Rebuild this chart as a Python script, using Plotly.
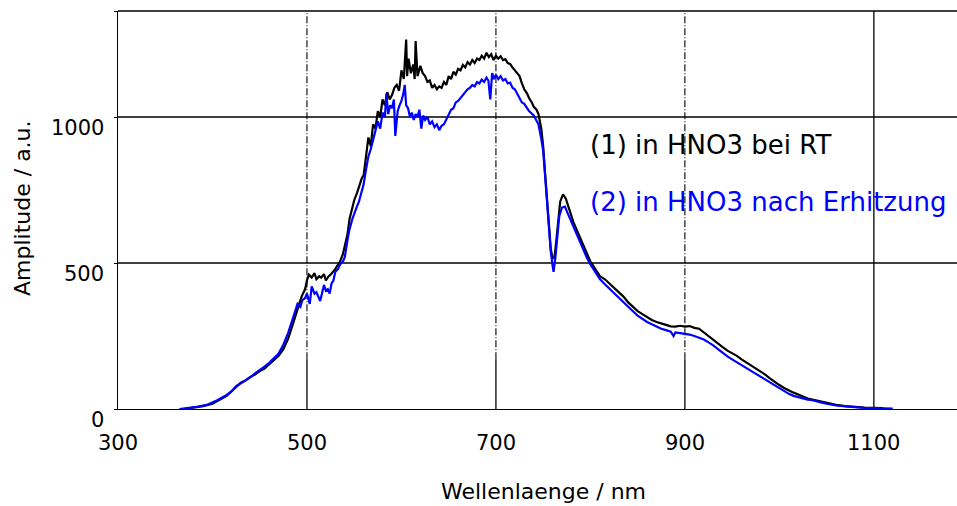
import plotly.graph_objects as go

# ---------------- data ----------------
# (wavelength nm, amplitude a.u.)
spectrum_rt = [
    (370, 0), (380, 5), (390, 10), (400, 18), (410, 35), (415, 45), (420, 60), (425, 75),
    (430, 90), (435, 98), (440, 110), (445, 118), (450, 130), (455, 138), (460, 152),
    (465, 165), (470, 182), (475, 205), (480, 240), (485, 290), (490, 345), (493, 372),
    (495, 390), (498, 410), (500, 440), (502, 460), (505, 450), (508, 465), (510, 445),
    (513, 455), (515, 450), (518, 462), (520, 440), (523, 455), (525, 460), (528, 470),
    (530, 480), (533, 495), (535, 505), (538, 530), (540, 560), (543, 600), (545, 650),
    (548, 690), (550, 715), (553, 740), (555, 760), (558, 790), (560, 800), (562.5, 860),
    (565, 930), (567.5, 900), (570, 975), (572.5, 960), (575, 1020), (577.5, 1000),
    (580, 1060), (582.5, 1040), (585, 1085), (587.5, 1060), (590, 1075), (592.5, 1100),
    (595, 1110), (597.5, 1090), (600, 1160), (602.5, 1130), (605, 1265), (606, 1140),
    (607.5, 1200), (610, 1150), (612.5, 1180), (614, 1130), (615, 1260), (617, 1140),
    (620, 1175), (622.5, 1150), (625, 1140), (627.5, 1120), (630, 1125), (632.5, 1100),
    (635, 1110), (637.5, 1095), (640, 1105), (642.5, 1100), (645, 1120), (647.5, 1110),
    (650, 1140), (652.5, 1130), (655, 1155), (657.5, 1145), (660, 1165), (662.5, 1160),
    (665, 1178), (667.5, 1170), (670, 1188), (672.5, 1180), (675, 1195), (677.5, 1185),
    (680, 1200), (682.5, 1195), (685, 1210), (687.5, 1200), (690, 1220), (692.5, 1205),
    (695, 1215), (697.5, 1195), (700, 1210), (702.5, 1200), (705, 1208), (707.5, 1195),
    (710, 1198), (712.5, 1185), (715, 1182), (717.5, 1170), (720, 1160), (722.5, 1150),
    (725, 1140), (727.5, 1115), (730, 1095), (733, 1080), (735, 1065), (738, 1050),
    (740, 1035), (743, 1025), (745, 1010), (748, 960), (750, 900), (752, 810), (754, 720),
    (756, 620), (758, 550), (760, 515), (762, 520), (764, 580), (766, 650), (768, 710),
    (771, 735), (774, 720), (778, 680), (782, 640), (786, 610), (790, 580), (795, 545),
    (800, 505), (805, 480), (810, 455), (815, 445), (820, 430), (825, 415), (830, 400),
    (835, 385), (840, 365), (845, 350), (850, 335), (855, 325), (860, 315), (865, 305),
    (870, 298), (875, 292), (880, 288), (885, 283), (890, 282), (895, 285), (900, 282),
    (905, 284), (910, 278), (915, 275), (920, 262), (925, 248), (930, 236), (935, 225),
    (940, 212), (945, 200), (950, 192), (955, 182), (960, 170), (965, 160), (970, 150),
    (975, 140), (980, 130), (985, 118), (990, 105), (995, 92), (1000, 82), (1005, 72),
    (1010, 63), (1015, 56), (1020, 50), (1025, 42), (1030, 36), (1035, 32), (1040, 28),
    (1045, 24), (1050, 20), (1055, 17), (1060, 14), (1070, 10), (1080, 7), (1090, 5),
    (1100, 4), (1110, 3),
]

spectrum_heat = [
    (365, 0), (375, 3), (385, 8), (395, 15), (405, 30), (415, 48), (420, 60), (425, 78),
    (430, 88), (435, 100), (440, 108), (445, 122), (450, 132), (455, 145), (460, 158),
    (465, 175), (470, 190), (475, 220), (480, 260), (485, 310), (490, 360), (493, 350),
    (495, 372), (498, 380), (500, 395), (503, 360), (505, 420), (508, 395), (510, 400),
    (514, 370), (518, 425), (520, 405), (522, 410), (524, 395), (526, 430), (528, 440),
    (530, 470), (533, 480), (535, 495), (538, 505), (540, 520), (543, 580), (545, 615),
    (548, 650), (550, 670), (553, 695), (555, 710), (558, 745), (560, 770), (562.5, 820),
    (565, 865), (567.5, 890), (570, 920), (572.5, 950), (575, 985), (577.5, 960),
    (580, 1015), (582.5, 1000), (584, 1080), (586, 1010), (588, 1040), (590, 1030),
    (592, 1060), (593.5, 935), (596, 1020), (598, 1040), (600, 1055), (602, 1080),
    (603.5, 1110), (605, 1040), (607, 1030), (609, 1000), (611, 1015), (613, 990),
    (615, 1010), (617, 1000), (619, 1025), (621, 960), (623, 1005), (625, 990),
    (627.5, 1000), (630, 975), (632.5, 985), (635, 965), (637.5, 975), (640, 955),
    (642.5, 970), (645, 975), (647.5, 990), (650, 1005), (652.5, 1025), (655, 1030),
    (657.5, 1050), (660, 1055), (662.5, 1065), (665, 1075), (667.5, 1085), (670, 1095),
    (672.5, 1100), (675, 1110), (677.5, 1105), (680, 1120), (682.5, 1115), (685, 1128),
    (687.5, 1120), (690, 1135), (692, 1125), (694, 1060), (696, 1150), (698, 1130),
    (700, 1145), (702.5, 1130), (705, 1140), (707.5, 1125), (710, 1130), (712.5, 1115),
    (715, 1118), (717.5, 1100), (720, 1095), (722.5, 1080), (725, 1070), (727.5, 1050),
    (730, 1045), (735, 1020), (740, 1005), (745, 975), (748, 925), (750, 885), (752, 800),
    (754, 710), (756, 610), (758, 540), (760, 490), (761, 470), (763, 520), (765, 600),
    (767, 660), (770, 690), (773, 693), (776, 670), (780, 640), (784, 605), (788, 575),
    (792, 545), (796, 520), (800, 495), (805, 470), (810, 445), (815, 428), (820, 412),
    (825, 398), (830, 380), (835, 365), (840, 350), (845, 335), (850, 320), (855, 308),
    (860, 298), (865, 290), (870, 282), (875, 275), (880, 270), (885, 265), (888, 250),
    (890, 262), (895, 260), (900, 258), (905, 255), (910, 250), (915, 245), (920, 238),
    (925, 228), (930, 218), (935, 205), (940, 192), (945, 180), (950, 170), (955, 160),
    (960, 150), (965, 142), (970, 132), (975, 122), (980, 112), (985, 102), (990, 92),
    (995, 80), (1000, 70), (1005, 62), (1010, 52), (1015, 45), (1020, 40), (1025, 36),
    (1030, 32), (1035, 30), (1040, 27), (1045, 22), (1050, 18), (1055, 15), (1060, 12),
    (1070, 9), (1080, 6), (1090, 4), (1100, 3), (1110, 2), (1120, 1),
]

x_ticks = [300, 500, 700, 900, 1100]
y_ticks = [0, 500, 1000]
x_grid = [500, 700, 900, 1100]
y_grid = [500, 1000]

label_rt = "(1) in HNO3 bei RT"
label_heat = "(2) in HNO3 nach Erhitzung"
x_title = "Wellenlaenge / nm"
y_title = "Amplitude / a.u."

wl_rt = [p[0] for p in spectrum_rt]
amp_rt = [p[1] for p in spectrum_rt]
wl_heat = [p[0] for p in spectrum_heat]
amp_heat = [p[1] for p in spectrum_heat]

X_MIN, X_MAX = 300, 1188
Y_MIN, Y_MAX = 0, 1363

FONT = "DejaVu Sans"
BLACK = "#000000"
BLUE = "#0000ff"

W, H = 957, 506
ML, MT, MR, MB = 118, 11, 0, 97

# ---------------- figure ----------------
fig = go.Figure()
fig.add_trace(go.Scatter(x=wl_rt, y=amp_rt, mode="lines",
                         line=dict(color=BLACK, width=2.2), showlegend=False))
fig.add_trace(go.Scatter(x=wl_heat, y=amp_heat, mode="lines",
                         line=dict(color=BLUE, width=2.2), showlegend=False))

shapes = []
for gy in y_grid:
    shapes.append(dict(type="line", xref="paper", x0=0, x1=1, yref="y", y0=gy, y1=gy,
                       line=dict(color=BLACK, width=1.3), layer="below"))
shapes.append(dict(type="line", xref="paper", x0=0, x1=1, yref="paper", y0=1, y1=1,
                   line=dict(color=BLACK, width=1.3), layer="below"))
for gx in x_grid:
    if gx == 1100:
        shapes.append(dict(type="line", xref="x", x0=gx, x1=gx, yref="paper", y0=0, y1=1,
                           line=dict(color=BLACK, width=1.3), layer="below"))
    else:
        shapes.append(dict(type="line", xref="x", x0=gx, x1=gx, yref="y", y0=0, y1=170,
                           line=dict(color=BLACK, width=1.3), layer="below"))
        shapes.append(dict(type="line", xref="x", x0=gx, x1=gx, yref="y", y0=170, y1=Y_MAX,
                           line=dict(color=BLACK, width=1.1, dash="7px,2px,1px,2px"),
                           layer="below"))

annotations = []
for v in y_ticks:
    annotations.append(dict(x=0, xref="paper", xanchor="right", xshift=-12,
                            y=v, yref="y", yanchor="middle", yshift=-11,
                            text=str(v), showarrow=False,
                            font=dict(family=FONT, size=21, color=BLACK)))
for v in x_ticks:
    annotations.append(dict(x=v, xref="x", xanchor="center",
                            y=0, yref="paper", yanchor="middle", yshift=-34,
                            text=str(v), showarrow=False,
                            font=dict(family=FONT, size=21, color=BLACK)))

annotations.append(dict(x=797, xref="x", xanchor="left", y=904, yref="y", yanchor="middle",
                        text=label_rt, showarrow=False,
                        font=dict(family=FONT, size=26, color=BLACK)))
annotations.append(dict(x=797, xref="x", xanchor="left", y=709, yref="y", yanchor="middle",
                        text=label_heat, showarrow=False,
                        font=dict(family=FONT, size=26, color=BLUE)))
annotations.append(dict(x=(543 - ML) / (W - ML - MR), xref="paper", y=0, yref="paper",
                        text=x_title, showarrow=False, xanchor="center", yanchor="middle",
                        yshift=-82, font=dict(family=FONT, size=22, color=BLACK)))
annotations.append(dict(x=0, xref="paper", xshift=-96, y=0.505, yref="paper",
                        text=y_title, showarrow=False, textangle=-90,
                        xanchor="center", yanchor="middle",
                        font=dict(family=FONT, size=22, color=BLACK)))

fig.update_layout(
    width=W, height=H,
    margin=dict(l=ML, r=MR, t=MT, b=MB, pad=0),
    paper_bgcolor="#ffffff", plot_bgcolor="#ffffff",
    shapes=shapes, annotations=annotations,
    font=dict(family=FONT, color=BLACK),
    showlegend=False,
)
fig.update_xaxes(range=[X_MIN, X_MAX], showgrid=False, zeroline=False,
                 showline=True, linecolor=BLACK, linewidth=1.3,
                 showticklabels=False, ticks="", fixedrange=True)
fig.update_yaxes(range=[Y_MIN, Y_MAX], showgrid=False, zeroline=False,
                 showline=True, linecolor=BLACK, linewidth=1.3,
                 tickvals=y_ticks + [Y_MAX], ticks="outside", ticklen=3,
                 tickcolor=BLACK, tickwidth=1.3,
                 showticklabels=False, fixedrange=True)

page_css = ("document.documentElement.style.margin='0';"
            "document.body.style.margin='0';"
            "document.body.style.padding='0';"
            "document.documentElement.style.overflow='hidden';"
            "document.body.style.overflow='hidden';")

fig.write_html("out.html", config={"displayModeBar": False}, post_script=page_css)
